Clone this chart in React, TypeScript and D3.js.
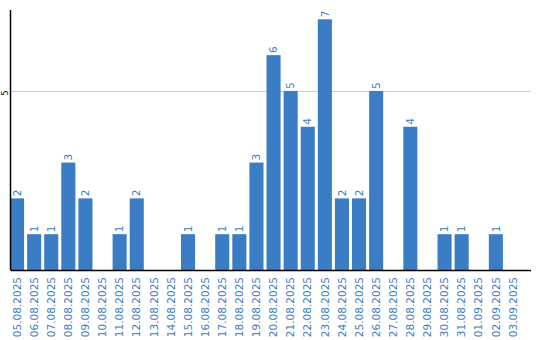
import React from "react";
import * as d3 from "d3";

const categories = [
  "05.08.2025","06.08.2025","07.08.2025","08.08.2025","09.08.2025","10.08.2025",
  "11.08.2025","12.08.2025","13.08.2025","14.08.2025","15.08.2025","16.08.2025",
  "17.08.2025","18.08.2025","19.08.2025","20.08.2025","21.08.2025","22.08.2025",
  "23.08.2025","24.08.2025","25.08.2025","26.08.2025","27.08.2025","28.08.2025",
  "29.08.2025","30.08.2025","31.08.2025","01.09.2025","02.09.2025","03.09.2025",
];
const values = [2,1,1,3,2,0,1,2,0,0,1,0,1,1,3,6,5,4,7,2,2,5,0,4,0,1,1,0,1,0];
const yTicks = [5];

const W = 540, H = 340;
const left = 10.5, right = 531, top = 10, bottom = 270;
const barColor = "#3b7dc4";

export default function App() {
  const step = 17;
  const x = d3.scaleBand<string>()
    .domain(categories)
    .range([left - 0.5, left - 0.5 + step * categories.length])
    .paddingInner(3 / 17)
    .paddingOuter(0)
    .align(0);
  const y = d3.scaleLinear().domain([0, 7.26]).range([bottom, top]);
  const font = "'DejaVu Sans', Verdana, sans-serif";
  return (
    <svg width={W} height={H} style={{ position: "absolute", left: 0, top: 0 }}>
      <rect width={W} height={H} fill="#fff" />
      {yTicks.map((t) => (
        <g key={t}>
          <line x1={left} x2={right} y1={Math.round(y(t)) + 0.5} y2={Math.round(y(t)) + 0.5} stroke="#cccccc" strokeWidth={1} />
          <text
            transform={`translate(5,${y(t) + 2}) rotate(-90)`}
            textAnchor="middle"
            dy="0.35em"
            fontSize={8}
            fontFamily={font}
            fill="#000"
          >{t}</text>
        </g>
      ))}
      {categories.map((c, i) => {
        const v = values[i];
        const bx = x(c)!;
        const bw = x.bandwidth();
        return (
          <g key={c}>
            {v > 0 && (
              <rect x={bx} y={y(v)} width={bw} height={bottom - y(v)} fill={barColor} />
            )}
            {v > 0 && (
              <text
                transform={`translate(${bx + bw / 2},${y(v) - 2}) rotate(-90)`}
                textAnchor="start"
                dy="0.35em"
                fontSize={10.5}
                fontFamily={font}
                fill={barColor}
              >{v}</text>
            )}
            <text
              transform={`translate(${bx + bw / 2},${bottom + 7}) rotate(-90)`}
              textAnchor="end"
              dy="0.35em"
              fontSize={10.5}
              fontFamily={font}
              fill={barColor}
            >{c}</text>
          </g>
        );
      })}
      <line x1={left} x2={left} y1={top} y2={bottom} stroke="#000" strokeWidth={1.5} />
      <line x1={left} x2={right} y1={bottom + 0.5} y2={bottom + 0.5} stroke="#000" strokeWidth={1.5} />
    </svg>
  );
}
